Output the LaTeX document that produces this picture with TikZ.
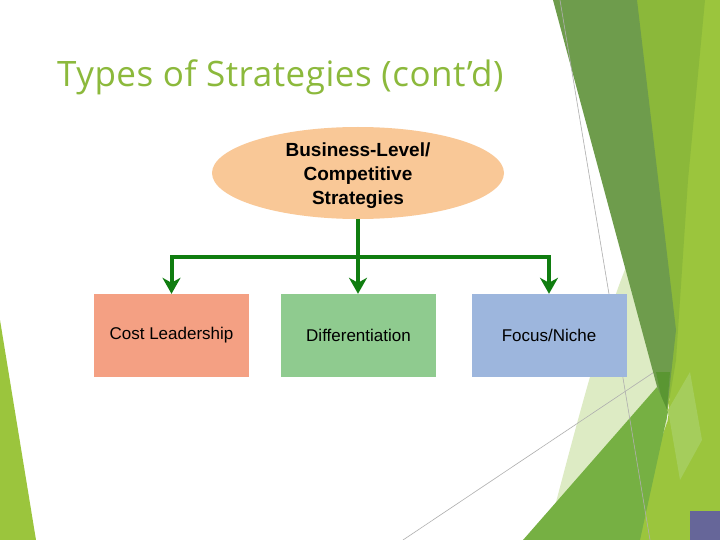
\documentclass[tikz,border=0pt]{standalone}
\usepackage{fontspec}
\setmainfont{Liberation Sans}
\newfontfamily\titlefont[LetterSpace=1.5]{Open Sans}
\usetikzlibrary{arrows.meta}
\definecolor{titlegreen}{RGB}{140,185,60}
\definecolor{peach}{RGB}{249,200,151}
\definecolor{costc}{RGB}{244,160,131}
\definecolor{diffc}{RGB}{143,203,143}
\definecolor{focusc}{RGB}{157,182,221}
\definecolor{arrowg}{RGB}{16,125,16}
\definecolor{darkband}{RGB}{110,156,76}
\definecolor{midgreen}{RGB}{139,184,58}
\definecolor{brightgreen}{RGB}{155,197,61}
\definecolor{medgreen}{RGB}{118,176,67}
\definecolor{palegreen}{RGB}{221,235,196}
\definecolor{lightband}{RGB}{165,205,92}
\definecolor{deepgreen}{RGB}{90,150,50}
\definecolor{purplesq}{RGB}{102,102,153}
\definecolor{thingray}{RGB}{175,175,175}
\begin{document}
\begin{tikzpicture}[x=1pt,y=-1pt,
  box/.style={draw=none,minimum width=155pt,minimum height=83pt,font=\fontsize{17}{20}\selectfont,inner sep=0pt},
  conn/.style={draw=arrowg,line width=4pt,line join=miter,-{Stealth[length=16pt,width=18pt,inset=5pt]}},
  deco/.style={draw=none}]
\useasboundingbox (0,0) rectangle (720,540);
\fill[white] (0,0) rectangle (720,540);
% background decoration
\fill[deco,palegreen] (628,262) .. controls (600,330) and (570,450) .. (546,540) -- (645,540) -- (668,420) -- cycle;
\draw[thingray,line width=0.6pt] (403,540) -- (720,328);
\fill[deco,brightgreen] (695,0) -- (720,0) -- (720,540) -- (625,540) -- (668,420) -- cycle;
\fill[deco,lightband] (668,410) -- (690,372) -- (702,440) -- (680,480) -- cycle;
\fill[deco,midgreen] (630,0) -- (705,0) -- (688,180) -- (676,360) -- (666,420) -- cycle;
\fill[deco,darkband] (553,0) -- (637,0) -- (676,330) -- (666,420) -- cycle;
\fill[deco,deepgreen] (656,372) -- (670,372) -- (666,420) -- cycle;
\fill[deco,medgreen] (523,540) -- (657,387) -- (668,412) -- (640,540) -- cycle;
\draw[thingray,line width=0.6pt] (560,0) -- (650,540);
\fill[deco,brightgreen] (0,320) -- (36,540) -- (0,540) -- cycle;
\fill[deco,purplesq] (690,511) rectangle (720,540);
% title
\node[anchor=base west,inner sep=0pt,text=titlegreen,font=\titlefont\fontsize{35}{40}\selectfont] (title) at (57,87) {Types of Strategies (cont’d)};
% main ellipse
\fill[peach] (358,173) ellipse [x radius=146, y radius=46];
\node[align=center,font=\bfseries\fontsize{19}{24}\selectfont,minimum width=292pt,minimum height=92pt,inner sep=0pt] (ell) at (358,176) {Business-Level/\\Competitive\\Strategies};
% boxes
\node[box,fill=costc] (cost) at (171.5,335.5) {Cost Leadership};
\node[box,fill=diffc] (diff) at (358.5,335.5) {Differentiation};
\node[box,fill=focusc] (focus) at (549,335.5) {Focus/Niche};
% connectors
\coordinate (bus) at (358,257);
\draw[conn] (358,219) -- (diff.north -| bus);
\draw[conn] (bus) -| (cost.north);
\draw[conn] (bus) -| (focus.north);
\end{tikzpicture}
\end{document}
